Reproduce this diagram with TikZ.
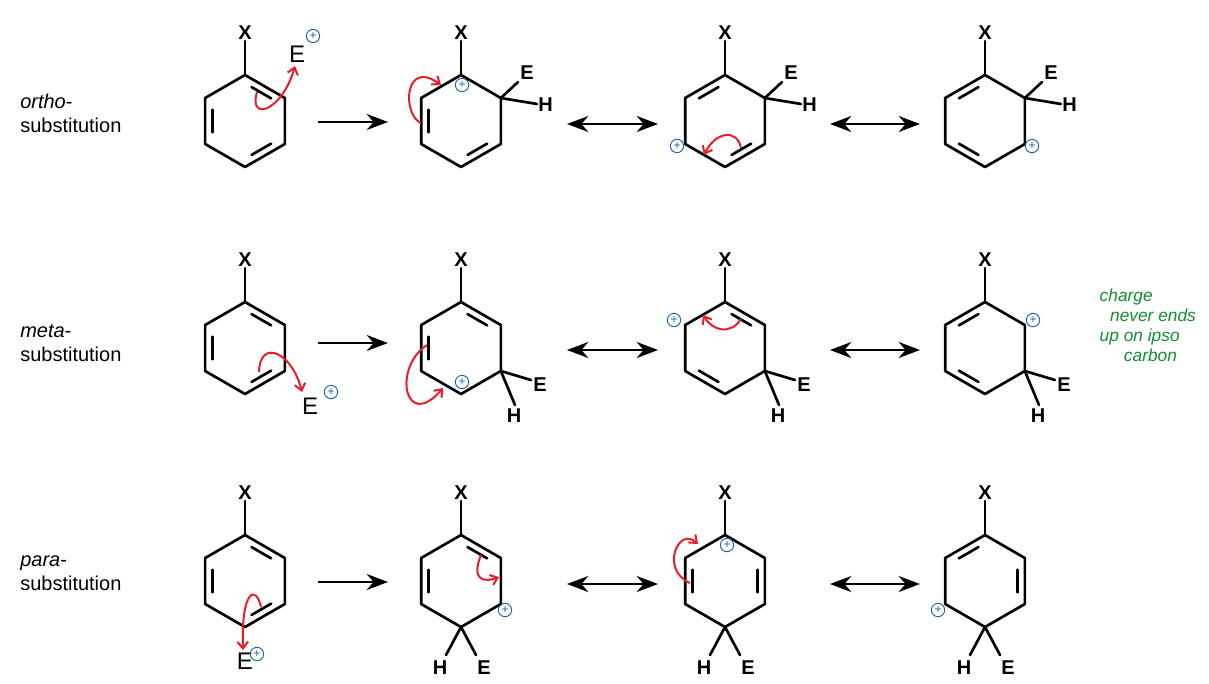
\documentclass[tikz,border=0pt]{standalone}
\usepackage{fontspec}
\setmainfont{Liberation Sans}
\usetikzlibrary{calc,arrows.meta}
\definecolor{chgblue}{RGB}{30,100,170}
\definecolor{arrred}{RGB}{230,30,40}
\definecolor{notegreen}{RGB}{20,140,50}
\tikzset{
  bond/.style={line width=2pt,line join=round,line cap=round},
  atom/.style={font=\bfseries\fontsize{15}{15}\selectfont,inner sep=0pt},
  rowlab/.style={font=\fontsize{15}{18}\selectfont,align=left,anchor=west,inner sep=0pt},
  fwd/.style={line width=1.8pt,-{Stealth[length=16pt,width=12pt]}},
  res/.style={line width=1.8pt,{Stealth[length=16pt,width=12pt]}-{Stealth[length=16pt,width=12pt]}},
  push/.style={arrred,line width=1.5pt,-{Straight Barb[length=5pt,width=8pt]}},
  chg/.style={circle,draw=chgblue,line width=0.7pt,minimum size=10pt,inner sep=0pt,text=chgblue,font=\fontsize{9}{9}\selectfont},
  elec/.style={font=\fontsize{18}{18}\selectfont,inner sep=0pt},
}
\newcommand{\mkring}[3]{%
  \coordinate (#1c) at (#2,#3);
  \foreach \i/\a in {1/-90,2/-30,3/30,4/90,5/150,6/210}{\coordinate (#1\i) at ($(#1c)+(\a:46)$);}
  \draw[bond] (#11)--(#12)--(#13)--(#14)--(#15)--(#16)--cycle;
  \coordinate (#1x) at ($(#11)+(0,-34)$);
  \draw[bond] (#11)--(#1x);
  \node[atom,anchor=south] at ($(#1x)+(0,-1)$) {X};
}
\newcommand{\dbl}[3]{\draw[bond] ($($(#1#2)!.2!(#1#3)$)!.18!(#1c)$) -- ($($(#1#2)!.8!(#1#3)$)!.18!(#1c)$);}
\newcommand{\plus}[2]{\node[chg] (#1) at (#2) {+};}
\begin{document}
\begin{tikzpicture}[x=0.75pt,y=-0.75pt]
\useasboundingbox (0,0) rectangle (1209,683);
% row labels
\node[rowlab] (l1) at (20,113) {\textit{ortho}-\\substitution};
\node[rowlab] (l2) at (20,343) {\textit{meta}-\\substitution};
\node[rowlab] (l3) at (20,573) {\textit{para}-\\substitution};
% ---- row 1
\mkring{a}{245}{121}\dbl{a}{1}{2}\dbl{a}{5}{6}\dbl{a}{3}{4}
\node[elec] (aE) at (297,54) {E};\plus{aq}{313,36}
\draw[push] (257,92) .. controls (248,122) and (282,112) .. (295,66);
\mkring{b}{461}{121}\dbl{b}{5}{6}\dbl{b}{3}{4}
\coordinate (bE) at (518,82);\coordinate (bH) at (537,104);
\draw[bond] (b2)--(bE);\draw[bond] (b2)--(bH);
\node[atom,anchor=south west] at (520,80) {E};
\node[atom,anchor=west] at (538,105) {H};
\plus{bq}{462,85}
\draw[push] (421,123) .. controls (402,115) and (404,58) .. (441,85);
\mkring{c}{725}{121}\dbl{c}{6}{1}\dbl{c}{3}{4}
\draw[bond] (c2)--(782,82);\draw[bond] (c2)--(801,104);
\node[atom,anchor=south west] at (784,80) {E};
\node[atom,anchor=west] at (802,105) {H};
\plus{cq}{677,146}
\draw[push] (741,148) .. controls (737,128) and (715,132) .. (704,155);
\mkring{d}{985}{121}\dbl{d}{6}{1}\dbl{d}{4}{5}
\draw[bond] (d2)--(1042,82);\draw[bond] (d2)--(1061,104);
\node[atom,anchor=south west] at (1044,80) {E};
\node[atom,anchor=west] at (1062,105) {H};
\plus{dq}{1032,146}
\draw[fwd] (318,122) -- (388,122);
\draw[res] (567,124) -- (658,124);
\draw[res] (830,124) -- (920,124);
% ---- row 2
\mkring{e}{245}{348}\dbl{e}{1}{2}\dbl{e}{5}{6}\dbl{e}{3}{4}
\node[elec] (eE) at (310,406) {E};\plus{eq}{331,392}
\draw[push] (259,372) .. controls (260,338) and (292,352) .. (302,392);
\mkring{f}{461}{348}\dbl{f}{1}{2}\dbl{f}{5}{6}
\draw[bond] (f3)--(531,380);\draw[bond] (f3)--(515,405);
\node[atom,anchor=west] at (533,385) {E};
\node[atom,anchor=north] at (514,408) {H};
\plus{fq}{462,382}
\draw[push] (427,345) .. controls (392,368) and (405,432) .. (443,388);
\mkring{g}{725}{348}\dbl{g}{1}{2}\dbl{g}{4}{5}
\draw[bond] (g3)--(795,380);\draw[bond] (g3)--(779,405);
\node[atom,anchor=west] at (797,385) {E};
\node[atom,anchor=north] at (778,408) {H};
\plus{gq}{674,320}
\draw[push] (741,319) .. controls (730,336) and (712,330) .. (703,315);
\mkring{h}{985}{348}\dbl{h}{6}{1}\dbl{h}{4}{5}
\draw[bond] (h3)--(1055,380);\draw[bond] (h3)--(1039,405);
\node[atom,anchor=west] at (1057,385) {E};
\node[atom,anchor=north] at (1038,408) {H};
\plus{hq}{1033,320}
\draw[fwd] (318,343) -- (388,343);
\draw[res] (567,350) -- (658,350);
\draw[res] (830,350) -- (920,350);
\node[align=left,text=notegreen,font=\itshape\fontsize{13}{15}\selectfont,anchor=west] (note) at (1095,325) {charge\\\hspace*{0.6em}never ends\\up on ipso\\\hspace*{1.4em}carbon};
% ---- row 3
\mkring{i}{245}{581}\dbl{i}{1}{2}\dbl{i}{5}{6}\dbl{i}{3}{4}
\node[elec] (iE) at (245,661) {E};\plus{iq}{257,654}
\draw[push] (261,607) .. controls (256,584) and (241,590) .. (243,650);
\mkring{j}{461}{581}\dbl{j}{1}{2}\dbl{j}{5}{6}
\draw[bond] (j4)--(446,655);\draw[bond] (j4)--(476,655);
\node[atom,anchor=north] at (440,660) {H};
\node[atom,anchor=north] at (484,660) {E};
\plus{jq}{505,610}
\draw[push] (481,555) .. controls (470,582) and (486,582) .. (499,577);
\mkring{k}{725}{581}\dbl{k}{2}{3}\dbl{k}{5}{6}
\draw[bond] (k4)--(710,655);\draw[bond] (k4)--(740,655);
\node[atom,anchor=north] at (704,660) {H};
\node[atom,anchor=north] at (748,660) {E};
\plus{kq}{727,545}
\draw[push] (690,583) .. controls (660,570) and (678,526) .. (698,544);
\mkring{m}{985}{581}\dbl{m}{6}{1}\dbl{m}{2}{3}
\draw[bond] (m4)--(970,655);\draw[bond] (m4)--(1000,655);
\node[atom,anchor=north] at (964,660) {H};
\node[atom,anchor=north] at (1008,660) {E};
\plus{mq}{938,610}
\draw[fwd] (318,582) -- (388,582);
\draw[res] (567,584) -- (658,584);
\draw[res] (830,584) -- (920,584);
\end{tikzpicture}
\end{document}
